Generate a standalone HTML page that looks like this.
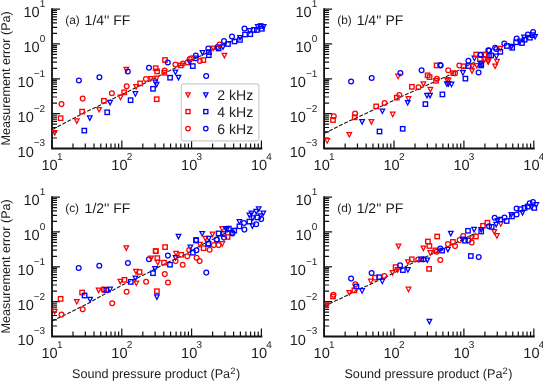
<!DOCTYPE html>
<html><head><meta charset="utf-8"><style>
html,body{margin:0;padding:0;background:#fff;}
svg{display:block;will-change:transform;}
text{font-family:"Liberation Sans",sans-serif;text-rendering:geometricPrecision;}
</style></head><body>
<svg width="543" height="381" viewBox="0 0 543 381">
<polyline points="52.5,129.4 56.1,127.5 85.5,112.1 95.8,107.3 116.8,96.9 132.5,89.3 147.5,81.8 170.0,70.4 199.9,56.2 229.9,41.8 235.0,39.5" fill="none" stroke="#1a1a1a" stroke-width="1.1" stroke-dasharray="4,1.6"/>
<path d="M52.0,148.50h8M52.0,138.01h5M52.0,131.87h5M52.0,127.52h5M52.0,124.14h5M52.0,121.38h5M52.0,119.05h5M52.0,117.03h5M52.0,115.24h5M52.0,113.65h8M52.0,103.16h5M52.0,97.02h5M52.0,92.67h5M52.0,89.29h5M52.0,86.53h5M52.0,84.20h5M52.0,82.18h5M52.0,80.39h5M52.0,78.80h8M52.0,68.31h5M52.0,62.17h5M52.0,57.82h5M52.0,54.44h5M52.0,51.68h5M52.0,49.35h5M52.0,47.33h5M52.0,45.54h5M52.0,43.95h8M52.0,33.46h5M52.0,27.32h5M52.0,22.97h5M52.0,19.59h5M52.0,16.83h5M52.0,14.50h5M52.0,12.48h5M52.0,10.69h5M52.0,9.10h8M52.00,148.5v-8M73.01,148.5v-5M85.30,148.5v-5M94.02,148.5v-5M100.79,148.5v-5M106.31,148.5v-5M110.99,148.5v-5M115.04,148.5v-5M118.61,148.5v-5M121.80,148.5v-8M142.81,148.5v-5M155.10,148.5v-5M163.82,148.5v-5M170.59,148.5v-5M176.11,148.5v-5M180.79,148.5v-5M184.84,148.5v-5M188.41,148.5v-5M191.60,148.5v-8M212.61,148.5v-5M224.90,148.5v-5M233.62,148.5v-5M240.39,148.5v-5M245.91,148.5v-5M250.59,148.5v-5M254.64,148.5v-5M258.21,148.5v-5M261.40,148.5v-8" fill="none" stroke="#111" stroke-width="1.2"/>
<path d="M52.0,9.1V148.5H261.4" fill="none" stroke="#111" stroke-width="1.8" stroke-linejoin="miter" stroke-linecap="square"/>
<path d="M52.40,130.60L57.00,130.60L54.70,135.10Z" fill="none" stroke="#ff0000" stroke-width="1.25" stroke-linejoin="miter"/>
<rect x="58.40" y="116.00" width="4.40" height="4.40" fill="none" stroke="#ff0000" stroke-width="1.35"/>
<circle cx="61.50" cy="104.10" r="2.40" fill="none" stroke="#ff0000" stroke-width="1.25"/>
<circle cx="82.70" cy="98.60" r="2.40" fill="none" stroke="#ff0000" stroke-width="1.25"/>
<rect x="79.90" y="109.40" width="4.40" height="4.40" fill="none" stroke="#ff0000" stroke-width="1.35"/>
<path d="M74.50,118.80L79.10,118.80L76.80,123.30Z" fill="none" stroke="#ff0000" stroke-width="1.25" stroke-linejoin="miter"/>
<path d="M87.50,115.90L92.10,115.90L89.80,120.40Z" fill="none" stroke="#0000ff" stroke-width="1.25" stroke-linejoin="miter"/>
<rect x="82.10" y="128.40" width="4.40" height="4.40" fill="none" stroke="#0000ff" stroke-width="1.35"/>
<path d="M96.80,107.50L101.40,107.50L99.10,112.00Z" fill="none" stroke="#ff0000" stroke-width="1.25" stroke-linejoin="miter"/>
<rect x="101.70" y="98.60" width="4.40" height="4.40" fill="none" stroke="#ff0000" stroke-width="1.35"/>
<path d="M107.80,100.40L112.40,100.40L110.10,104.90Z" fill="none" stroke="#0000ff" stroke-width="1.25" stroke-linejoin="miter"/>
<rect x="105.00" y="110.10" width="4.40" height="4.40" fill="none" stroke="#0000ff" stroke-width="1.35"/>
<circle cx="111.90" cy="93.30" r="2.40" fill="none" stroke="#ff0000" stroke-width="1.25"/>
<path d="M118.20,95.20L122.80,95.20L120.50,99.70Z" fill="none" stroke="#ff0000" stroke-width="1.25" stroke-linejoin="miter"/>
<rect x="122.00" y="90.10" width="4.40" height="4.40" fill="none" stroke="#ff0000" stroke-width="1.35"/>
<rect x="128.40" y="98.00" width="4.40" height="4.40" fill="none" stroke="#0000ff" stroke-width="1.35"/>
<circle cx="78.90" cy="80.50" r="2.40" fill="none" stroke="#0000ff" stroke-width="1.25"/>
<circle cx="99.40" cy="77.30" r="2.40" fill="none" stroke="#0000ff" stroke-width="1.25"/>
<path d="M124.00,67.30L128.60,67.30L126.30,71.80Z" fill="none" stroke="#ff0000" stroke-width="1.25" stroke-linejoin="miter"/>
<circle cx="127.80" cy="71.40" r="2.40" fill="none" stroke="#0000ff" stroke-width="1.25"/>
<circle cx="126.70" cy="86.30" r="2.40" fill="none" stroke="#ff0000" stroke-width="1.25"/>
<rect x="137.90" y="81.20" width="4.40" height="4.40" fill="none" stroke="#ff0000" stroke-width="1.35"/>
<path d="M133.80,84.60L138.40,84.60L136.10,89.10Z" fill="none" stroke="#ff0000" stroke-width="1.25" stroke-linejoin="miter"/>
<path d="M133.10,91.70L137.70,91.70L135.40,96.20Z" fill="none" stroke="#0000ff" stroke-width="1.25" stroke-linejoin="miter"/>
<rect x="154.50" y="97.00" width="4.40" height="4.40" fill="none" stroke="#ff0000" stroke-width="1.35"/>
<circle cx="149.00" cy="67.80" r="2.40" fill="none" stroke="#0000ff" stroke-width="1.25"/>
<rect x="153.50" y="66.00" width="4.40" height="4.40" fill="none" stroke="#ff0000" stroke-width="1.35"/>
<rect x="154.90" y="69.20" width="4.40" height="4.40" fill="none" stroke="#ff0000" stroke-width="1.35"/>
<circle cx="145.90" cy="78.90" r="2.40" fill="none" stroke="#ff0000" stroke-width="1.25"/>
<path d="M148.50,76.60L153.10,76.60L150.80,81.10Z" fill="none" stroke="#ff0000" stroke-width="1.25" stroke-linejoin="miter"/>
<path d="M154.30,76.20L158.90,76.20L156.60,80.70Z" fill="none" stroke="#ff0000" stroke-width="1.25" stroke-linejoin="miter"/>
<path d="M153.00,80.20L157.60,80.20L155.30,84.70Z" fill="none" stroke="#0000ff" stroke-width="1.25" stroke-linejoin="miter"/>
<path d="M154.30,82.40L158.90,82.40L156.60,86.90Z" fill="none" stroke="#0000ff" stroke-width="1.25" stroke-linejoin="miter"/>
<rect x="150.80" y="86.60" width="4.40" height="4.40" fill="none" stroke="#0000ff" stroke-width="1.35"/>
<rect x="162.80" y="57.80" width="4.40" height="4.40" fill="none" stroke="#ff0000" stroke-width="1.35"/>
<circle cx="167.80" cy="62.50" r="2.40" fill="none" stroke="#0000ff" stroke-width="1.25"/>
<circle cx="175.40" cy="64.50" r="2.40" fill="none" stroke="#ff0000" stroke-width="1.25"/>
<rect x="178.60" y="63.20" width="4.40" height="4.40" fill="none" stroke="#ff0000" stroke-width="1.35"/>
<circle cx="183.00" cy="63.40" r="2.40" fill="none" stroke="#ff0000" stroke-width="1.25"/>
<circle cx="187.50" cy="62.50" r="2.40" fill="none" stroke="#ff0000" stroke-width="1.25"/>
<circle cx="189.70" cy="58.90" r="2.40" fill="none" stroke="#ff0000" stroke-width="1.25"/>
<path d="M187.40,60.20L192.00,60.20L189.70,64.70Z" fill="none" stroke="#0000ff" stroke-width="1.25" stroke-linejoin="miter"/>
<rect x="190.60" y="63.90" width="4.40" height="4.40" fill="none" stroke="#0000ff" stroke-width="1.35"/>
<circle cx="195.80" cy="55.60" r="2.40" fill="none" stroke="#0000ff" stroke-width="1.25"/>
<rect x="193.60" y="56.10" width="4.40" height="4.40" fill="none" stroke="#0000ff" stroke-width="1.35"/>
<circle cx="164.70" cy="70.50" r="2.40" fill="none" stroke="#ff0000" stroke-width="1.25"/>
<rect x="162.10" y="70.60" width="4.40" height="4.40" fill="none" stroke="#ff0000" stroke-width="1.35"/>
<path d="M173.10,70.00L177.70,70.00L175.40,74.50Z" fill="none" stroke="#0000ff" stroke-width="1.25" stroke-linejoin="miter"/>
<path d="M176.20,75.30L180.80,75.30L178.50,79.80Z" fill="none" stroke="#0000ff" stroke-width="1.25" stroke-linejoin="miter"/>
<rect x="167.90" y="75.50" width="4.40" height="4.40" fill="none" stroke="#0000ff" stroke-width="1.35"/>
<circle cx="199.80" cy="61.00" r="2.40" fill="none" stroke="#ff0000" stroke-width="1.25"/>
<circle cx="191.30" cy="58.30" r="2.40" fill="none" stroke="#ff0000" stroke-width="1.25"/>
<rect x="201.20" y="57.90" width="4.40" height="4.40" fill="none" stroke="#ff0000" stroke-width="1.35"/>
<path d="M200.20,50.60L204.80,50.60L202.50,55.10Z" fill="none" stroke="#0000ff" stroke-width="1.25" stroke-linejoin="miter"/>
<circle cx="208.30" cy="48.50" r="2.40" fill="none" stroke="#0000ff" stroke-width="1.25"/>
<rect x="206.60" y="49.90" width="4.40" height="4.40" fill="none" stroke="#0000ff" stroke-width="1.35"/>
<rect x="206.60" y="53.00" width="4.40" height="4.40" fill="none" stroke="#0000ff" stroke-width="1.35"/>
<path d="M210.90,46.10L215.50,46.10L213.20,50.60Z" fill="none" stroke="#ff0000" stroke-width="1.25" stroke-linejoin="miter"/>
<circle cx="217.70" cy="47.10" r="2.40" fill="none" stroke="#0000ff" stroke-width="1.25"/>
<rect x="216.40" y="46.30" width="4.40" height="4.40" fill="none" stroke="#0000ff" stroke-width="1.35"/>
<circle cx="219.50" cy="44.50" r="2.40" fill="none" stroke="#ff0000" stroke-width="1.25"/>
<path d="M220.70,44.80L225.30,44.80L223.00,49.30Z" fill="none" stroke="#0000ff" stroke-width="1.25" stroke-linejoin="miter"/>
<path d="M222.10,53.30L226.70,53.30L224.40,57.80Z" fill="none" stroke="#ff0000" stroke-width="1.25" stroke-linejoin="miter"/>
<circle cx="224.00" cy="41.00" r="2.40" fill="none" stroke="#0000ff" stroke-width="1.25"/>
<rect x="225.80" y="41.80" width="4.40" height="4.40" fill="none" stroke="#0000ff" stroke-width="1.35"/>
<circle cx="232.00" cy="36.50" r="2.40" fill="none" stroke="#0000ff" stroke-width="1.25"/>
<rect x="232.30" y="39.20" width="4.40" height="4.40" fill="none" stroke="#0000ff" stroke-width="1.35"/>
<path d="M237.70,35.50L242.30,35.50L240.00,40.00Z" fill="none" stroke="#0000ff" stroke-width="1.25" stroke-linejoin="miter"/>
<rect x="237.80" y="37.70" width="4.40" height="4.40" fill="none" stroke="#0000ff" stroke-width="1.35"/>
<circle cx="244.50" cy="28.50" r="2.40" fill="none" stroke="#0000ff" stroke-width="1.25"/>
<rect x="242.80" y="32.30" width="4.40" height="4.40" fill="none" stroke="#0000ff" stroke-width="1.35"/>
<path d="M247.30,28.70L251.90,28.70L249.60,33.20Z" fill="none" stroke="#0000ff" stroke-width="1.25" stroke-linejoin="miter"/>
<rect x="248.10" y="32.00" width="4.40" height="4.40" fill="none" stroke="#0000ff" stroke-width="1.35"/>
<rect x="251.70" y="27.70" width="4.40" height="4.40" fill="none" stroke="#0000ff" stroke-width="1.35"/>
<path d="M255.50,24.70L260.10,24.70L257.80,29.20Z" fill="none" stroke="#0000ff" stroke-width="1.25" stroke-linejoin="miter"/>
<rect x="254.70" y="27.80" width="4.40" height="4.40" fill="none" stroke="#0000ff" stroke-width="1.35"/>
<rect x="258.40" y="23.80" width="4.40" height="4.40" fill="none" stroke="#0000ff" stroke-width="1.35"/>
<rect x="259.70" y="26.60" width="4.40" height="4.40" fill="none" stroke="#0000ff" stroke-width="1.35"/>
<path d="M261.30,24.60L265.90,24.60L263.60,29.10Z" fill="none" stroke="#0000ff" stroke-width="1.25" stroke-linejoin="miter"/>
<circle cx="206.20" cy="76.00" r="2.40" fill="none" stroke="#0000ff" stroke-width="1.25"/>
<text x="45.2" y="156.5" text-anchor="end" font-size="14.6" fill="#1e1e1e">10<tspan font-size="10" dy="-10.1">−3</tspan></text>
<text x="45.2" y="121.7" text-anchor="end" font-size="14.6" fill="#1e1e1e">10<tspan font-size="10" dy="-10.1">−2</tspan></text>
<text x="45.2" y="86.8" text-anchor="end" font-size="14.6" fill="#1e1e1e">10<tspan font-size="10" dy="-10.1">−1</tspan></text>
<text x="45.2" y="51.9" text-anchor="end" font-size="14.6" fill="#1e1e1e">10<tspan font-size="10" dy="-10.1">0</tspan></text>
<text x="45.2" y="17.1" text-anchor="end" font-size="14.6" fill="#1e1e1e">10<tspan font-size="10" dy="-10.1">1</tspan></text>
<text x="52.0" y="169.8" text-anchor="middle" font-size="14.6" fill="#1e1e1e">10<tspan font-size="10" dy="-9.7" dx="-0.8">1</tspan></text>
<text x="121.8" y="169.8" text-anchor="middle" font-size="14.6" fill="#1e1e1e">10<tspan font-size="10" dy="-9.7" dx="-0.8">2</tspan></text>
<text x="191.6" y="169.8" text-anchor="middle" font-size="14.6" fill="#1e1e1e">10<tspan font-size="10" dy="-9.7" dx="-0.8">3</tspan></text>
<text x="261.4" y="169.8" text-anchor="middle" font-size="14.6" fill="#1e1e1e">10<tspan font-size="10" dy="-9.7" dx="-0.8">4</tspan></text>
<text x="65.2" y="24.4" font-size="11.9" fill="#1e1e1e">(a)</text>
<text x="84.6" y="25.0" font-size="14" fill="#1a1a1a">1/4'' FF</text>
<polyline points="324.1,133.6 329.2,131.0 339.3,125.8 349.7,120.8 358.5,117.0 373.5,109.8 381.0,106.4 395.7,99.4 402.8,95.9 446.3,76.5 476.0,61.5" fill="none" stroke="#1a1a1a" stroke-width="1.1" stroke-dasharray="4,1.6"/>
<path d="M324.1,148.50h8M324.1,138.01h5M324.1,131.87h5M324.1,127.52h5M324.1,124.14h5M324.1,121.38h5M324.1,119.05h5M324.1,117.03h5M324.1,115.24h5M324.1,113.65h8M324.1,103.16h5M324.1,97.02h5M324.1,92.67h5M324.1,89.29h5M324.1,86.53h5M324.1,84.20h5M324.1,82.18h5M324.1,80.39h5M324.1,78.80h8M324.1,68.31h5M324.1,62.17h5M324.1,57.82h5M324.1,54.44h5M324.1,51.68h5M324.1,49.35h5M324.1,47.33h5M324.1,45.54h5M324.1,43.95h8M324.1,33.46h5M324.1,27.32h5M324.1,22.97h5M324.1,19.59h5M324.1,16.83h5M324.1,14.50h5M324.1,12.48h5M324.1,10.69h5M324.1,9.10h8M324.10,148.5v-8M345.14,148.5v-5M357.45,148.5v-5M366.18,148.5v-5M372.96,148.5v-5M378.49,148.5v-5M383.17,148.5v-5M387.23,148.5v-5M390.80,148.5v-5M394.00,148.5v-8M415.04,148.5v-5M427.35,148.5v-5M436.08,148.5v-5M442.86,148.5v-5M448.39,148.5v-5M453.07,148.5v-5M457.13,148.5v-5M460.70,148.5v-5M463.90,148.5v-8M484.94,148.5v-5M497.25,148.5v-5M505.98,148.5v-5M512.76,148.5v-5M518.29,148.5v-5M522.97,148.5v-5M527.03,148.5v-5M530.60,148.5v-5M533.80,148.5v-8" fill="none" stroke="#111" stroke-width="1.2"/>
<path d="M324.1,9.1V148.5H533.8" fill="none" stroke="#111" stroke-width="1.8" stroke-linejoin="miter" stroke-linecap="square"/>
<path d="M324.90,138.70L329.50,138.70L327.20,143.20Z" fill="none" stroke="#ff0000" stroke-width="1.25" stroke-linejoin="miter"/>
<circle cx="333.80" cy="116.30" r="2.40" fill="none" stroke="#ff0000" stroke-width="1.25"/>
<rect x="330.80" y="117.80" width="4.40" height="4.40" fill="none" stroke="#ff0000" stroke-width="1.35"/>
<path d="M347.00,132.50L351.60,132.50L349.30,137.00Z" fill="none" stroke="#ff0000" stroke-width="1.25" stroke-linejoin="miter"/>
<circle cx="355.10" cy="113.40" r="2.40" fill="none" stroke="#ff0000" stroke-width="1.25"/>
<rect x="352.50" y="115.10" width="4.40" height="4.40" fill="none" stroke="#ff0000" stroke-width="1.35"/>
<path d="M359.80,119.60L364.40,119.60L362.10,124.10Z" fill="none" stroke="#0000ff" stroke-width="1.25" stroke-linejoin="miter"/>
<path d="M369.10,119.60L373.70,119.60L371.40,124.10Z" fill="none" stroke="#ff0000" stroke-width="1.25" stroke-linejoin="miter"/>
<rect x="377.30" y="129.30" width="4.40" height="4.40" fill="none" stroke="#0000ff" stroke-width="1.35"/>
<rect x="374.00" y="104.20" width="4.40" height="4.40" fill="none" stroke="#ff0000" stroke-width="1.35"/>
<circle cx="384.60" cy="103.00" r="2.40" fill="none" stroke="#ff0000" stroke-width="1.25"/>
<path d="M380.10,109.00L384.70,109.00L382.40,113.50Z" fill="none" stroke="#0000ff" stroke-width="1.25" stroke-linejoin="miter"/>
<path d="M390.40,112.20L395.00,112.20L392.70,116.70Z" fill="none" stroke="#ff0000" stroke-width="1.25" stroke-linejoin="miter"/>
<rect x="394.60" y="95.40" width="4.40" height="4.40" fill="none" stroke="#ff0000" stroke-width="1.35"/>
<circle cx="399.30" cy="94.90" r="2.40" fill="none" stroke="#ff0000" stroke-width="1.25"/>
<rect x="400.50" y="126.60" width="4.40" height="4.40" fill="none" stroke="#0000ff" stroke-width="1.35"/>
<circle cx="351.10" cy="81.50" r="2.40" fill="none" stroke="#0000ff" stroke-width="1.25"/>
<circle cx="371.70" cy="78.00" r="2.40" fill="none" stroke="#0000ff" stroke-width="1.25"/>
<path d="M395.80,74.20L400.40,74.20L398.10,78.70Z" fill="none" stroke="#ff0000" stroke-width="1.25" stroke-linejoin="miter"/>
<circle cx="400.40" cy="73.10" r="2.40" fill="none" stroke="#0000ff" stroke-width="1.25"/>
<circle cx="421.60" cy="70.30" r="2.40" fill="none" stroke="#0000ff" stroke-width="1.25"/>
<rect x="434.40" y="63.20" width="4.40" height="4.40" fill="none" stroke="#ff0000" stroke-width="1.35"/>
<circle cx="440.30" cy="65.10" r="2.40" fill="none" stroke="#0000ff" stroke-width="1.25"/>
<rect x="425.40" y="73.10" width="4.40" height="4.40" fill="none" stroke="#ff0000" stroke-width="1.35"/>
<rect x="427.40" y="74.90" width="4.40" height="4.40" fill="none" stroke="#ff0000" stroke-width="1.35"/>
<circle cx="436.90" cy="78.70" r="2.40" fill="none" stroke="#ff0000" stroke-width="1.25"/>
<rect x="433.80" y="78.60" width="4.40" height="4.40" fill="none" stroke="#ff0000" stroke-width="1.35"/>
<path d="M421.10,81.90L425.70,81.90L423.40,86.40Z" fill="none" stroke="#ff0000" stroke-width="1.25" stroke-linejoin="miter"/>
<rect x="409.70" y="84.60" width="4.40" height="4.40" fill="none" stroke="#ff0000" stroke-width="1.35"/>
<circle cx="418.50" cy="87.20" r="2.40" fill="none" stroke="#ff0000" stroke-width="1.25"/>
<path d="M428.10,87.30L432.70,87.30L430.40,91.80Z" fill="none" stroke="#ff0000" stroke-width="1.25" stroke-linejoin="miter"/>
<path d="M424.70,93.40L429.30,93.40L427.00,97.90Z" fill="none" stroke="#0000ff" stroke-width="1.25" stroke-linejoin="miter"/>
<path d="M427.70,93.40L432.30,93.40L430.00,97.90Z" fill="none" stroke="#0000ff" stroke-width="1.25" stroke-linejoin="miter"/>
<rect x="440.20" y="92.20" width="4.40" height="4.40" fill="none" stroke="#0000ff" stroke-width="1.35"/>
<path d="M406.20,96.70L410.80,96.70L408.50,101.20Z" fill="none" stroke="#ff0000" stroke-width="1.25" stroke-linejoin="miter"/>
<path d="M405.40,100.50L410.00,100.50L407.70,105.00Z" fill="none" stroke="#0000ff" stroke-width="1.25" stroke-linejoin="miter"/>
<rect x="423.20" y="101.90" width="4.40" height="4.40" fill="none" stroke="#0000ff" stroke-width="1.35"/>
<path d="M444.60,77.70L449.20,77.70L446.90,82.20Z" fill="none" stroke="#ff0000" stroke-width="1.25" stroke-linejoin="miter"/>
<path d="M444.60,81.90L449.20,81.90L446.90,86.40Z" fill="none" stroke="#0000ff" stroke-width="1.25" stroke-linejoin="miter"/>
<circle cx="440.60" cy="65.40" r="2.40" fill="none" stroke="#0000ff" stroke-width="1.25"/>
<circle cx="448.20" cy="70.20" r="2.40" fill="none" stroke="#ff0000" stroke-width="1.25"/>
<circle cx="455.10" cy="73.20" r="2.40" fill="none" stroke="#ff0000" stroke-width="1.25"/>
<rect x="451.10" y="71.00" width="4.40" height="4.40" fill="none" stroke="#ff0000" stroke-width="1.35"/>
<path d="M446.20,78.00L450.80,78.00L448.50,82.50Z" fill="none" stroke="#ff0000" stroke-width="1.25" stroke-linejoin="miter"/>
<path d="M446.20,81.60L450.80,81.60L448.50,86.10Z" fill="none" stroke="#0000ff" stroke-width="1.25" stroke-linejoin="miter"/>
<path d="M449.20,82.20L453.80,82.20L451.50,86.70Z" fill="none" stroke="#0000ff" stroke-width="1.25" stroke-linejoin="miter"/>
<circle cx="459.30" cy="65.40" r="2.40" fill="none" stroke="#ff0000" stroke-width="1.25"/>
<rect x="461.40" y="64.10" width="4.40" height="4.40" fill="none" stroke="#ff0000" stroke-width="1.35"/>
<circle cx="468.40" cy="60.80" r="2.40" fill="none" stroke="#0000ff" stroke-width="1.25"/>
<rect x="466.20" y="63.80" width="4.40" height="4.40" fill="none" stroke="#0000ff" stroke-width="1.35"/>
<path d="M470.10,64.10L474.70,64.10L472.40,68.60Z" fill="none" stroke="#ff0000" stroke-width="1.25" stroke-linejoin="miter"/>
<path d="M469.70,68.90L474.30,68.90L472.00,73.40Z" fill="none" stroke="#ff0000" stroke-width="1.25" stroke-linejoin="miter"/>
<path d="M460.60,70.70L465.20,70.70L462.90,75.20Z" fill="none" stroke="#0000ff" stroke-width="1.25" stroke-linejoin="miter"/>
<rect x="463.20" y="76.40" width="4.40" height="4.40" fill="none" stroke="#0000ff" stroke-width="1.35"/>
<path d="M472.10,56.20L476.70,56.20L474.40,60.70Z" fill="none" stroke="#0000ff" stroke-width="1.25" stroke-linejoin="miter"/>
<path d="M474.50,63.50L479.10,63.50L476.80,68.00Z" fill="none" stroke="#ff0000" stroke-width="1.25" stroke-linejoin="miter"/>
<circle cx="478.60" cy="72.40" r="2.40" fill="none" stroke="#0000ff" stroke-width="1.25"/>
<path d="M478.80,61.10L483.40,61.10L481.10,65.60Z" fill="none" stroke="#0000ff" stroke-width="1.25" stroke-linejoin="miter"/>
<rect x="478.90" y="63.20" width="4.40" height="4.40" fill="none" stroke="#0000ff" stroke-width="1.35"/>
<rect x="474.00" y="52.30" width="4.40" height="4.40" fill="none" stroke="#ff0000" stroke-width="1.35"/>
<rect x="477.70" y="57.10" width="4.40" height="4.40" fill="none" stroke="#ff0000" stroke-width="1.35"/>
<circle cx="480.50" cy="54.70" r="2.40" fill="none" stroke="#0000ff" stroke-width="1.25"/>
<path d="M482.40,57.40L487.00,57.40L484.70,61.90Z" fill="none" stroke="#ff0000" stroke-width="1.25" stroke-linejoin="miter"/>
<rect x="483.10" y="52.30" width="4.40" height="4.40" fill="none" stroke="#ff0000" stroke-width="1.35"/>
<path d="M486.00,59.80L490.60,59.80L488.30,64.30Z" fill="none" stroke="#ff0000" stroke-width="1.25" stroke-linejoin="miter"/>
<circle cx="488.30" cy="50.30" r="2.40" fill="none" stroke="#0000ff" stroke-width="1.25"/>
<rect x="486.70" y="53.50" width="4.40" height="4.40" fill="none" stroke="#0000ff" stroke-width="1.35"/>
<circle cx="504.30" cy="43.60" r="2.40" fill="none" stroke="#0000ff" stroke-width="1.25"/>
<rect x="504.70" y="43.80" width="4.40" height="4.40" fill="none" stroke="#0000ff" stroke-width="1.35"/>
<path d="M509.20,44.30L513.80,44.30L511.50,48.80Z" fill="none" stroke="#0000ff" stroke-width="1.25" stroke-linejoin="miter"/>
<rect x="510.00" y="45.60" width="4.40" height="4.40" fill="none" stroke="#0000ff" stroke-width="1.35"/>
<circle cx="516.70" cy="38.40" r="2.40" fill="none" stroke="#0000ff" stroke-width="1.25"/>
<rect x="513.90" y="40.10" width="4.40" height="4.40" fill="none" stroke="#0000ff" stroke-width="1.35"/>
<path d="M517.70,39.10L522.30,39.10L520.00,43.60Z" fill="none" stroke="#0000ff" stroke-width="1.25" stroke-linejoin="miter"/>
<rect x="519.80" y="40.80" width="4.40" height="4.40" fill="none" stroke="#0000ff" stroke-width="1.35"/>
<path d="M521.70,35.20L526.30,35.20L524.00,39.70Z" fill="none" stroke="#0000ff" stroke-width="1.25" stroke-linejoin="miter"/>
<rect x="522.40" y="37.50" width="4.40" height="4.40" fill="none" stroke="#0000ff" stroke-width="1.35"/>
<circle cx="527.90" cy="34.40" r="2.40" fill="none" stroke="#0000ff" stroke-width="1.25"/>
<rect x="527.70" y="35.50" width="4.40" height="4.40" fill="none" stroke="#0000ff" stroke-width="1.35"/>
<rect x="530.30" y="32.90" width="4.40" height="4.40" fill="none" stroke="#0000ff" stroke-width="1.35"/>
<circle cx="533.10" cy="32.10" r="2.40" fill="none" stroke="#0000ff" stroke-width="1.25"/>
<path d="M532.80,34.50L537.40,34.50L535.10,39.00Z" fill="none" stroke="#0000ff" stroke-width="1.25" stroke-linejoin="miter"/>
<circle cx="489.20" cy="50.40" r="2.40" fill="none" stroke="#0000ff" stroke-width="1.25"/>
<circle cx="495.10" cy="47.80" r="2.40" fill="none" stroke="#0000ff" stroke-width="1.25"/>
<circle cx="496.40" cy="48.90" r="2.40" fill="none" stroke="#0000ff" stroke-width="1.25"/>
<path d="M498.00,46.30L502.60,46.30L500.30,50.80Z" fill="none" stroke="#ff0000" stroke-width="1.25" stroke-linejoin="miter"/>
<rect x="498.10" y="49.60" width="4.40" height="4.40" fill="none" stroke="#0000ff" stroke-width="1.35"/>
<rect x="482.40" y="52.60" width="4.40" height="4.40" fill="none" stroke="#ff0000" stroke-width="1.35"/>
<rect x="489.00" y="53.20" width="4.40" height="4.40" fill="none" stroke="#0000ff" stroke-width="1.35"/>
<path d="M494.10,54.20L498.70,54.20L496.40,58.70Z" fill="none" stroke="#0000ff" stroke-width="1.25" stroke-linejoin="miter"/>
<path d="M485.60,58.80L490.20,58.80L487.90,63.30Z" fill="none" stroke="#ff0000" stroke-width="1.25" stroke-linejoin="miter"/>
<path d="M494.80,59.40L499.40,59.40L497.10,63.90Z" fill="none" stroke="#ff0000" stroke-width="1.25" stroke-linejoin="miter"/>
<path d="M492.80,64.00L497.40,64.00L495.10,68.50Z" fill="none" stroke="#ff0000" stroke-width="1.25" stroke-linejoin="miter"/>
<rect x="479.10" y="61.80" width="4.40" height="4.40" fill="none" stroke="#0000ff" stroke-width="1.35"/>
<circle cx="480.70" cy="54.80" r="2.40" fill="none" stroke="#0000ff" stroke-width="1.25"/>
<text x="317.3" y="156.5" text-anchor="end" font-size="14.6" fill="#1e1e1e">10<tspan font-size="10" dy="-10.1">−3</tspan></text>
<text x="317.3" y="121.7" text-anchor="end" font-size="14.6" fill="#1e1e1e">10<tspan font-size="10" dy="-10.1">−2</tspan></text>
<text x="317.3" y="86.8" text-anchor="end" font-size="14.6" fill="#1e1e1e">10<tspan font-size="10" dy="-10.1">−1</tspan></text>
<text x="317.3" y="51.9" text-anchor="end" font-size="14.6" fill="#1e1e1e">10<tspan font-size="10" dy="-10.1">0</tspan></text>
<text x="317.3" y="17.1" text-anchor="end" font-size="14.6" fill="#1e1e1e">10<tspan font-size="10" dy="-10.1">1</tspan></text>
<text x="324.1" y="169.8" text-anchor="middle" font-size="14.6" fill="#1e1e1e">10<tspan font-size="10" dy="-9.7" dx="-0.8">1</tspan></text>
<text x="394.0" y="169.8" text-anchor="middle" font-size="14.6" fill="#1e1e1e">10<tspan font-size="10" dy="-9.7" dx="-0.8">2</tspan></text>
<text x="463.9" y="169.8" text-anchor="middle" font-size="14.6" fill="#1e1e1e">10<tspan font-size="10" dy="-9.7" dx="-0.8">3</tspan></text>
<text x="533.8" y="169.8" text-anchor="middle" font-size="14.6" fill="#1e1e1e">10<tspan font-size="10" dy="-9.7" dx="-0.8">4</tspan></text>
<text x="337.3" y="24.4" font-size="11.9" fill="#1e1e1e">(b)</text>
<text x="356.7" y="25.0" font-size="14" fill="#1a1a1a">1/4'' PF</text>
<polyline points="52.1,320.9 53.1,320.4 65.7,314.5 77.6,308.6 89.4,302.7 100.2,296.5 112.8,290.2 125.4,283.5 137.4,278.0 150.0,271.7 161.0,265.8 171.8,260.5 186.8,253.8 201.8,244.8 210.5,240.5 235.7,227.8 238.0,226.6" fill="none" stroke="#1a1a1a" stroke-width="1.1" stroke-dasharray="4,1.6"/>
<path d="M52.0,336.50h8M52.0,326.01h5M52.0,319.87h5M52.0,315.52h5M52.0,312.14h5M52.0,309.38h5M52.0,307.05h5M52.0,305.03h5M52.0,303.24h5M52.0,301.65h8M52.0,291.16h5M52.0,285.02h5M52.0,280.67h5M52.0,277.29h5M52.0,274.53h5M52.0,272.20h5M52.0,270.18h5M52.0,268.39h5M52.0,266.80h8M52.0,256.31h5M52.0,250.17h5M52.0,245.82h5M52.0,242.44h5M52.0,239.68h5M52.0,237.35h5M52.0,235.33h5M52.0,233.54h5M52.0,231.95h8M52.0,221.46h5M52.0,215.32h5M52.0,210.97h5M52.0,207.59h5M52.0,204.83h5M52.0,202.50h5M52.0,200.48h5M52.0,198.69h5M52.0,197.10h8M52.00,336.5v-8M73.01,336.5v-5M85.30,336.5v-5M94.02,336.5v-5M100.79,336.5v-5M106.31,336.5v-5M110.99,336.5v-5M115.04,336.5v-5M118.61,336.5v-5M121.80,336.5v-8M142.81,336.5v-5M155.10,336.5v-5M163.82,336.5v-5M170.59,336.5v-5M176.11,336.5v-5M180.79,336.5v-5M184.84,336.5v-5M188.41,336.5v-5M191.60,336.5v-8M212.61,336.5v-5M224.90,336.5v-5M233.62,336.5v-5M240.39,336.5v-5M245.91,336.5v-5M250.59,336.5v-5M254.64,336.5v-5M258.21,336.5v-5M261.40,336.5v-8" fill="none" stroke="#111" stroke-width="1.2"/>
<path d="M52.0,197.1V336.5H261.4" fill="none" stroke="#111" stroke-width="1.8" stroke-linejoin="miter" stroke-linecap="square"/>
<path d="M52.40,309.30L57.00,309.30L54.70,313.80Z" fill="none" stroke="#ff0000" stroke-width="1.25" stroke-linejoin="miter"/>
<rect x="58.40" y="296.70" width="4.40" height="4.40" fill="none" stroke="#ff0000" stroke-width="1.35"/>
<circle cx="61.50" cy="314.60" r="2.40" fill="none" stroke="#ff0000" stroke-width="1.25"/>
<path d="M74.50,299.50L79.10,299.50L76.80,304.00Z" fill="none" stroke="#ff0000" stroke-width="1.25" stroke-linejoin="miter"/>
<rect x="79.90" y="290.30" width="4.40" height="4.40" fill="none" stroke="#ff0000" stroke-width="1.35"/>
<rect x="82.40" y="293.30" width="4.40" height="4.40" fill="none" stroke="#0000ff" stroke-width="1.35"/>
<path d="M87.80,297.30L92.40,297.30L90.10,301.80Z" fill="none" stroke="#0000ff" stroke-width="1.25" stroke-linejoin="miter"/>
<circle cx="82.70" cy="309.20" r="2.40" fill="none" stroke="#ff0000" stroke-width="1.25"/>
<path d="M96.30,288.10L100.90,288.10L98.60,292.60Z" fill="none" stroke="#ff0000" stroke-width="1.25" stroke-linejoin="miter"/>
<circle cx="103.30" cy="289.60" r="2.40" fill="none" stroke="#ff0000" stroke-width="1.25"/>
<rect x="102.00" y="287.40" width="4.40" height="4.40" fill="none" stroke="#ff0000" stroke-width="1.35"/>
<rect x="104.10" y="287.80" width="4.40" height="4.40" fill="none" stroke="#0000ff" stroke-width="1.35"/>
<path d="M107.80,287.20L112.40,287.20L110.10,291.70Z" fill="none" stroke="#0000ff" stroke-width="1.25" stroke-linejoin="miter"/>
<circle cx="112.20" cy="303.30" r="2.40" fill="none" stroke="#ff0000" stroke-width="1.25"/>
<circle cx="126.60" cy="291.80" r="2.40" fill="none" stroke="#ff0000" stroke-width="1.25"/>
<path d="M118.00,279.40L122.60,279.40L120.30,283.90Z" fill="none" stroke="#ff0000" stroke-width="1.25" stroke-linejoin="miter"/>
<rect x="122.30" y="277.60" width="4.40" height="4.40" fill="none" stroke="#ff0000" stroke-width="1.35"/>
<rect x="128.60" y="279.70" width="4.40" height="4.40" fill="none" stroke="#0000ff" stroke-width="1.35"/>
<circle cx="78.70" cy="268.00" r="2.40" fill="none" stroke="#0000ff" stroke-width="1.25"/>
<circle cx="99.30" cy="265.70" r="2.40" fill="none" stroke="#0000ff" stroke-width="1.25"/>
<path d="M124.00,245.80L128.60,245.80L126.30,250.30Z" fill="none" stroke="#ff0000" stroke-width="1.25" stroke-linejoin="miter"/>
<circle cx="127.90" cy="262.90" r="2.40" fill="none" stroke="#0000ff" stroke-width="1.25"/>
<rect x="153.50" y="248.90" width="4.40" height="4.40" fill="none" stroke="#ff0000" stroke-width="1.35"/>
<circle cx="149.00" cy="259.30" r="2.40" fill="none" stroke="#0000ff" stroke-width="1.25"/>
<path d="M148.80,256.00L153.40,256.00L151.10,260.50Z" fill="none" stroke="#ff0000" stroke-width="1.25" stroke-linejoin="miter"/>
<rect x="155.10" y="255.90" width="4.40" height="4.40" fill="none" stroke="#ff0000" stroke-width="1.35"/>
<path d="M155.50,260.30L160.10,260.30L157.80,264.80Z" fill="none" stroke="#ff0000" stroke-width="1.25" stroke-linejoin="miter"/>
<path d="M152.70,266.50L157.30,266.50L155.00,271.00Z" fill="none" stroke="#0000ff" stroke-width="1.25" stroke-linejoin="miter"/>
<rect x="150.80" y="271.00" width="4.40" height="4.40" fill="none" stroke="#0000ff" stroke-width="1.35"/>
<path d="M133.70,269.30L138.30,269.30L136.00,273.80Z" fill="none" stroke="#ff0000" stroke-width="1.25" stroke-linejoin="miter"/>
<rect x="137.40" y="269.80" width="4.40" height="4.40" fill="none" stroke="#ff0000" stroke-width="1.35"/>
<path d="M133.10,276.10L137.70,276.10L135.40,280.60Z" fill="none" stroke="#0000ff" stroke-width="1.25" stroke-linejoin="miter"/>
<path d="M134.00,281.00L138.60,281.00L136.30,285.50Z" fill="none" stroke="#ff0000" stroke-width="1.25" stroke-linejoin="miter"/>
<circle cx="146.10" cy="281.70" r="2.40" fill="none" stroke="#ff0000" stroke-width="1.25"/>
<path d="M176.20,234.40L180.80,234.40L178.50,238.90Z" fill="none" stroke="#0000ff" stroke-width="1.25" stroke-linejoin="miter"/>
<rect x="162.90" y="244.90" width="4.40" height="4.40" fill="none" stroke="#ff0000" stroke-width="1.35"/>
<rect x="153.60" y="249.00" width="4.40" height="4.40" fill="none" stroke="#ff0000" stroke-width="1.35"/>
<circle cx="167.90" cy="255.60" r="2.40" fill="none" stroke="#0000ff" stroke-width="1.25"/>
<path d="M173.70,251.30L178.30,251.30L176.00,255.80Z" fill="none" stroke="#ff0000" stroke-width="1.25" stroke-linejoin="miter"/>
<rect x="179.00" y="252.60" width="4.40" height="4.40" fill="none" stroke="#ff0000" stroke-width="1.35"/>
<path d="M173.30,255.60L177.90,255.60L175.60,260.10Z" fill="none" stroke="#0000ff" stroke-width="1.25" stroke-linejoin="miter"/>
<circle cx="175.60" cy="261.10" r="2.40" fill="none" stroke="#ff0000" stroke-width="1.25"/>
<circle cx="187.30" cy="256.20" r="2.40" fill="none" stroke="#ff0000" stroke-width="1.25"/>
<rect x="193.90" y="238.30" width="4.40" height="4.40" fill="none" stroke="#0000ff" stroke-width="1.35"/>
<path d="M188.10,245.10L192.70,245.10L190.40,249.60Z" fill="none" stroke="#0000ff" stroke-width="1.25" stroke-linejoin="miter"/>
<circle cx="189.20" cy="249.90" r="2.40" fill="none" stroke="#ff0000" stroke-width="1.25"/>
<circle cx="196.40" cy="250.30" r="2.40" fill="none" stroke="#0000ff" stroke-width="1.25"/>
<rect x="190.60" y="250.50" width="4.40" height="4.40" fill="none" stroke="#0000ff" stroke-width="1.35"/>
<circle cx="196.60" cy="257.70" r="2.40" fill="none" stroke="#ff0000" stroke-width="1.25"/>
<rect x="161.80" y="260.50" width="4.40" height="4.40" fill="none" stroke="#ff0000" stroke-width="1.35"/>
<rect x="167.80" y="262.50" width="4.40" height="4.40" fill="none" stroke="#0000ff" stroke-width="1.35"/>
<circle cx="182.70" cy="264.80" r="2.40" fill="none" stroke="#ff0000" stroke-width="1.25"/>
<circle cx="164.80" cy="274.10" r="2.40" fill="none" stroke="#ff0000" stroke-width="1.25"/>
<circle cx="168.00" cy="282.50" r="2.40" fill="none" stroke="#ff0000" stroke-width="1.25"/>
<rect x="154.70" y="289.00" width="4.40" height="4.40" fill="none" stroke="#ff0000" stroke-width="1.35"/>
<path d="M154.60,294.80L159.20,294.80L156.90,299.30Z" fill="none" stroke="#0000ff" stroke-width="1.25" stroke-linejoin="miter"/>
<circle cx="199.60" cy="261.10" r="2.40" fill="none" stroke="#ff0000" stroke-width="1.25"/>
<circle cx="206.30" cy="272.60" r="2.40" fill="none" stroke="#0000ff" stroke-width="1.25"/>
<path d="M197.60,242.30L202.20,242.30L199.90,246.80Z" fill="none" stroke="#ff0000" stroke-width="1.25" stroke-linejoin="miter"/>
<rect x="201.40" y="246.00" width="4.40" height="4.40" fill="none" stroke="#ff0000" stroke-width="1.35"/>
<circle cx="209.60" cy="249.70" r="2.40" fill="none" stroke="#ff0000" stroke-width="1.25"/>
<rect x="206.20" y="241.70" width="4.40" height="4.40" fill="none" stroke="#0000ff" stroke-width="1.35"/>
<circle cx="213.80" cy="245.10" r="2.40" fill="none" stroke="#ff0000" stroke-width="1.25"/>
<circle cx="218.60" cy="245.10" r="2.40" fill="none" stroke="#ff0000" stroke-width="1.25"/>
<path d="M220.00,241.70L224.60,241.70L222.30,246.20Z" fill="none" stroke="#ff0000" stroke-width="1.25" stroke-linejoin="miter"/>
<circle cx="216.80" cy="239.80" r="2.40" fill="none" stroke="#0000ff" stroke-width="1.25"/>
<path d="M199.90,231.50L204.50,231.50L202.20,236.00Z" fill="none" stroke="#0000ff" stroke-width="1.25" stroke-linejoin="miter"/>
<rect x="194.00" y="237.80" width="4.40" height="4.40" fill="none" stroke="#0000ff" stroke-width="1.35"/>
<path d="M203.00,236.30L207.60,236.30L205.30,240.80Z" fill="none" stroke="#ff0000" stroke-width="1.25" stroke-linejoin="miter"/>
<path d="M206.60,236.30L211.20,236.30L208.90,240.80Z" fill="none" stroke="#0000ff" stroke-width="1.25" stroke-linejoin="miter"/>
<rect x="206.10" y="241.40" width="4.40" height="4.40" fill="none" stroke="#0000ff" stroke-width="1.35"/>
<path d="M210.20,232.10L214.80,232.10L212.50,236.60Z" fill="none" stroke="#ff0000" stroke-width="1.25" stroke-linejoin="miter"/>
<circle cx="216.70" cy="239.40" r="2.40" fill="none" stroke="#0000ff" stroke-width="1.25"/>
<rect x="216.40" y="231.20" width="4.40" height="4.40" fill="none" stroke="#0000ff" stroke-width="1.35"/>
<path d="M219.90,226.70L224.50,226.70L222.20,231.20Z" fill="none" stroke="#ff0000" stroke-width="1.25" stroke-linejoin="miter"/>
<path d="M223.50,226.70L228.10,226.70L225.80,231.20Z" fill="none" stroke="#0000ff" stroke-width="1.25" stroke-linejoin="miter"/>
<rect x="221.20" y="231.80" width="4.40" height="4.40" fill="none" stroke="#0000ff" stroke-width="1.35"/>
<circle cx="224.00" cy="237.60" r="2.40" fill="none" stroke="#0000ff" stroke-width="1.25"/>
<rect x="225.40" y="234.80" width="4.40" height="4.40" fill="none" stroke="#ff0000" stroke-width="1.35"/>
<rect x="226.60" y="226.40" width="4.40" height="4.40" fill="none" stroke="#0000ff" stroke-width="1.35"/>
<path d="M224.70,227.20L229.30,227.20L227.00,231.70Z" fill="none" stroke="#0000ff" stroke-width="1.25" stroke-linejoin="miter"/>
<circle cx="232.30" cy="233.50" r="2.40" fill="none" stroke="#0000ff" stroke-width="1.25"/>
<rect x="232.00" y="228.40" width="4.40" height="4.40" fill="none" stroke="#0000ff" stroke-width="1.35"/>
<circle cx="232.40" cy="232.80" r="2.40" fill="none" stroke="#0000ff" stroke-width="1.25"/>
<path d="M237.10,219.50L241.70,219.50L239.40,224.00Z" fill="none" stroke="#0000ff" stroke-width="1.25" stroke-linejoin="miter"/>
<rect x="237.20" y="224.10" width="4.40" height="4.40" fill="none" stroke="#0000ff" stroke-width="1.35"/>
<circle cx="244.40" cy="229.60" r="2.40" fill="none" stroke="#0000ff" stroke-width="1.25"/>
<circle cx="244.00" cy="222.90" r="2.40" fill="none" stroke="#0000ff" stroke-width="1.25"/>
<rect x="247.20" y="219.40" width="4.40" height="4.40" fill="none" stroke="#0000ff" stroke-width="1.35"/>
<path d="M250.10,223.90L254.70,223.90L252.40,228.40Z" fill="none" stroke="#0000ff" stroke-width="1.25" stroke-linejoin="miter"/>
<circle cx="256.20" cy="224.20" r="2.40" fill="none" stroke="#0000ff" stroke-width="1.25"/>
<path d="M247.10,213.10L251.70,213.10L249.40,217.60Z" fill="none" stroke="#0000ff" stroke-width="1.25" stroke-linejoin="miter"/>
<path d="M249.20,211.10L253.80,211.10L251.50,215.60Z" fill="none" stroke="#0000ff" stroke-width="1.25" stroke-linejoin="miter"/>
<path d="M250.50,215.90L255.10,215.90L252.80,220.40Z" fill="none" stroke="#0000ff" stroke-width="1.25" stroke-linejoin="miter"/>
<path d="M253.90,209.30L258.50,209.30L256.20,213.80Z" fill="none" stroke="#0000ff" stroke-width="1.25" stroke-linejoin="miter"/>
<path d="M256.40,206.90L261.00,206.90L258.70,211.40Z" fill="none" stroke="#0000ff" stroke-width="1.25" stroke-linejoin="miter"/>
<rect x="255.20" y="215.20" width="4.40" height="4.40" fill="none" stroke="#0000ff" stroke-width="1.35"/>
<path d="M258.10,213.80L262.70,213.80L260.40,218.30Z" fill="none" stroke="#0000ff" stroke-width="1.25" stroke-linejoin="miter"/>
<path d="M261.00,211.00L265.60,211.00L263.30,215.50Z" fill="none" stroke="#0000ff" stroke-width="1.25" stroke-linejoin="miter"/>
<circle cx="261.20" cy="219.10" r="2.40" fill="none" stroke="#0000ff" stroke-width="1.25"/>
<text x="45.2" y="344.5" text-anchor="end" font-size="14.6" fill="#1e1e1e">10<tspan font-size="10" dy="-10.1">−3</tspan></text>
<text x="45.2" y="309.6" text-anchor="end" font-size="14.6" fill="#1e1e1e">10<tspan font-size="10" dy="-10.1">−2</tspan></text>
<text x="45.2" y="274.8" text-anchor="end" font-size="14.6" fill="#1e1e1e">10<tspan font-size="10" dy="-10.1">−1</tspan></text>
<text x="45.2" y="239.9" text-anchor="end" font-size="14.6" fill="#1e1e1e">10<tspan font-size="10" dy="-10.1">0</tspan></text>
<text x="45.2" y="205.1" text-anchor="end" font-size="14.6" fill="#1e1e1e">10<tspan font-size="10" dy="-10.1">1</tspan></text>
<text x="52.0" y="357.8" text-anchor="middle" font-size="14.6" fill="#1e1e1e">10<tspan font-size="10" dy="-9.7" dx="-0.8">1</tspan></text>
<text x="121.8" y="357.8" text-anchor="middle" font-size="14.6" fill="#1e1e1e">10<tspan font-size="10" dy="-9.7" dx="-0.8">2</tspan></text>
<text x="191.6" y="357.8" text-anchor="middle" font-size="14.6" fill="#1e1e1e">10<tspan font-size="10" dy="-9.7" dx="-0.8">3</tspan></text>
<text x="261.4" y="357.8" text-anchor="middle" font-size="14.6" fill="#1e1e1e">10<tspan font-size="10" dy="-9.7" dx="-0.8">4</tspan></text>
<text x="65.2" y="212.4" font-size="11.9" fill="#1e1e1e">(c)</text>
<text x="84.6" y="213.0" font-size="14" fill="#1a1a1a">1/2'' FF</text>
<polyline points="324.1,306.5 329.9,303.6 348.8,294.6 356.6,290.2 367.9,285.5 389.1,275.3 398.6,270.6 408.2,265.1 431.1,254.5 456.5,242.5 472.2,234.7 476.0,232.9" fill="none" stroke="#1a1a1a" stroke-width="1.1" stroke-dasharray="4,1.6"/>
<path d="M324.1,336.50h8M324.1,326.01h5M324.1,319.87h5M324.1,315.52h5M324.1,312.14h5M324.1,309.38h5M324.1,307.05h5M324.1,305.03h5M324.1,303.24h5M324.1,301.65h8M324.1,291.16h5M324.1,285.02h5M324.1,280.67h5M324.1,277.29h5M324.1,274.53h5M324.1,272.20h5M324.1,270.18h5M324.1,268.39h5M324.1,266.80h8M324.1,256.31h5M324.1,250.17h5M324.1,245.82h5M324.1,242.44h5M324.1,239.68h5M324.1,237.35h5M324.1,235.33h5M324.1,233.54h5M324.1,231.95h8M324.1,221.46h5M324.1,215.32h5M324.1,210.97h5M324.1,207.59h5M324.1,204.83h5M324.1,202.50h5M324.1,200.48h5M324.1,198.69h5M324.1,197.10h8M324.10,336.5v-8M345.14,336.5v-5M357.45,336.5v-5M366.18,336.5v-5M372.96,336.5v-5M378.49,336.5v-5M383.17,336.5v-5M387.23,336.5v-5M390.80,336.5v-5M394.00,336.5v-8M415.04,336.5v-5M427.35,336.5v-5M436.08,336.5v-5M442.86,336.5v-5M448.39,336.5v-5M453.07,336.5v-5M457.13,336.5v-5M460.70,336.5v-5M463.90,336.5v-8M484.94,336.5v-5M497.25,336.5v-5M505.98,336.5v-5M512.76,336.5v-5M518.29,336.5v-5M522.97,336.5v-5M527.03,336.5v-5M530.60,336.5v-5M533.80,336.5v-8" fill="none" stroke="#111" stroke-width="1.2"/>
<path d="M324.1,197.1V336.5H533.8" fill="none" stroke="#111" stroke-width="1.8" stroke-linejoin="miter" stroke-linecap="square"/>
<path d="M324.90,303.10L329.50,303.10L327.20,307.60Z" fill="none" stroke="#ff0000" stroke-width="1.25" stroke-linejoin="miter"/>
<circle cx="333.50" cy="294.70" r="2.40" fill="none" stroke="#ff0000" stroke-width="1.25"/>
<rect x="330.80" y="294.30" width="4.40" height="4.40" fill="none" stroke="#ff0000" stroke-width="1.35"/>
<path d="M347.00,290.60L351.60,290.60L349.30,295.10Z" fill="none" stroke="#ff0000" stroke-width="1.25" stroke-linejoin="miter"/>
<circle cx="355.30" cy="284.20" r="2.40" fill="none" stroke="#ff0000" stroke-width="1.25"/>
<rect x="352.20" y="288.10" width="4.40" height="4.40" fill="none" stroke="#ff0000" stroke-width="1.35"/>
<rect x="354.20" y="284.30" width="4.40" height="4.40" fill="none" stroke="#0000ff" stroke-width="1.35"/>
<path d="M359.80,288.70L364.40,288.70L362.10,293.20Z" fill="none" stroke="#0000ff" stroke-width="1.25" stroke-linejoin="miter"/>
<circle cx="351.10" cy="278.60" r="2.40" fill="none" stroke="#0000ff" stroke-width="1.25"/>
<circle cx="371.60" cy="272.90" r="2.40" fill="none" stroke="#0000ff" stroke-width="1.25"/>
<path d="M368.50,279.20L373.10,279.20L370.80,283.70Z" fill="none" stroke="#ff0000" stroke-width="1.25" stroke-linejoin="miter"/>
<rect x="372.80" y="275.50" width="4.40" height="4.40" fill="none" stroke="#ff0000" stroke-width="1.35"/>
<rect x="377.10" y="275.00" width="4.40" height="4.40" fill="none" stroke="#0000ff" stroke-width="1.35"/>
<circle cx="384.40" cy="276.00" r="2.40" fill="none" stroke="#ff0000" stroke-width="1.25"/>
<path d="M380.00,279.20L384.60,279.20L382.30,283.70Z" fill="none" stroke="#0000ff" stroke-width="1.25" stroke-linejoin="miter"/>
<path d="M396.20,244.10L400.80,244.10L398.50,248.60Z" fill="none" stroke="#ff0000" stroke-width="1.25" stroke-linejoin="miter"/>
<rect x="425.70" y="239.30" width="4.40" height="4.40" fill="none" stroke="#ff0000" stroke-width="1.35"/>
<rect x="427.20" y="243.80" width="4.40" height="4.40" fill="none" stroke="#ff0000" stroke-width="1.35"/>
<path d="M421.10,246.10L425.70,246.10L423.40,250.60Z" fill="none" stroke="#ff0000" stroke-width="1.25" stroke-linejoin="miter"/>
<path d="M428.00,250.70L432.60,250.70L430.30,255.20Z" fill="none" stroke="#ff0000" stroke-width="1.25" stroke-linejoin="miter"/>
<path d="M405.60,259.80L410.20,259.80L407.90,264.30Z" fill="none" stroke="#ff0000" stroke-width="1.25" stroke-linejoin="miter"/>
<rect x="409.60" y="257.10" width="4.40" height="4.40" fill="none" stroke="#ff0000" stroke-width="1.35"/>
<circle cx="418.20" cy="259.50" r="2.40" fill="none" stroke="#ff0000" stroke-width="1.25"/>
<rect x="419.00" y="257.10" width="4.40" height="4.40" fill="none" stroke="#0000ff" stroke-width="1.35"/>
<circle cx="423.60" cy="259.30" r="2.40" fill="none" stroke="#0000ff" stroke-width="1.25"/>
<path d="M425.00,258.00L429.60,258.00L427.30,262.50Z" fill="none" stroke="#0000ff" stroke-width="1.25" stroke-linejoin="miter"/>
<path d="M390.20,270.60L394.80,270.60L392.50,275.10Z" fill="none" stroke="#ff0000" stroke-width="1.25" stroke-linejoin="miter"/>
<rect x="393.40" y="264.90" width="4.40" height="4.40" fill="none" stroke="#ff0000" stroke-width="1.35"/>
<path d="M395.40,267.60L400.00,267.60L397.70,272.10Z" fill="none" stroke="#ff0000" stroke-width="1.25" stroke-linejoin="miter"/>
<circle cx="400.10" cy="265.30" r="2.40" fill="none" stroke="#0000ff" stroke-width="1.25"/>
<rect x="400.70" y="267.90" width="4.40" height="4.40" fill="none" stroke="#0000ff" stroke-width="1.35"/>
<path d="M405.60,267.60L410.20,267.60L407.90,272.10Z" fill="none" stroke="#0000ff" stroke-width="1.25" stroke-linejoin="miter"/>
<rect x="426.90" y="266.70" width="4.40" height="4.40" fill="none" stroke="#ff0000" stroke-width="1.35"/>
<path d="M406.20,287.20L410.80,287.20L408.50,291.70Z" fill="none" stroke="#ff0000" stroke-width="1.25" stroke-linejoin="miter"/>
<path d="M427.10,319.30L431.70,319.30L429.40,323.80Z" fill="none" stroke="#0000ff" stroke-width="1.25" stroke-linejoin="miter"/>
<rect x="435.00" y="234.30" width="4.40" height="4.40" fill="none" stroke="#ff0000" stroke-width="1.35"/>
<path d="M448.50,231.30L453.10,231.30L450.80,235.80Z" fill="none" stroke="#0000ff" stroke-width="1.25" stroke-linejoin="miter"/>
<circle cx="436.60" cy="251.80" r="2.40" fill="none" stroke="#ff0000" stroke-width="1.25"/>
<rect x="433.20" y="248.20" width="4.40" height="4.40" fill="none" stroke="#ff0000" stroke-width="1.35"/>
<circle cx="440.30" cy="248.60" r="2.40" fill="none" stroke="#0000ff" stroke-width="1.25"/>
<rect x="439.90" y="248.40" width="4.40" height="4.40" fill="none" stroke="#0000ff" stroke-width="1.35"/>
<path d="M445.60,247.30L450.20,247.30L447.90,251.80Z" fill="none" stroke="#0000ff" stroke-width="1.25" stroke-linejoin="miter"/>
<circle cx="447.90" cy="244.10" r="2.40" fill="none" stroke="#ff0000" stroke-width="1.25"/>
<rect x="450.70" y="239.70" width="4.40" height="4.40" fill="none" stroke="#ff0000" stroke-width="1.35"/>
<circle cx="455.10" cy="246.10" r="2.40" fill="none" stroke="#ff0000" stroke-width="1.25"/>
<circle cx="459.60" cy="240.10" r="2.40" fill="none" stroke="#ff0000" stroke-width="1.25"/>
<circle cx="463.20" cy="235.90" r="2.40" fill="none" stroke="#ff0000" stroke-width="1.25"/>
<path d="M460.30,237.00L464.90,237.00L462.60,241.50Z" fill="none" stroke="#0000ff" stroke-width="1.25" stroke-linejoin="miter"/>
<rect x="462.80" y="238.50" width="4.40" height="4.40" fill="none" stroke="#0000ff" stroke-width="1.35"/>
<circle cx="468.40" cy="240.50" r="2.40" fill="none" stroke="#0000ff" stroke-width="1.25"/>
<circle cx="471.70" cy="242.50" r="2.40" fill="none" stroke="#ff0000" stroke-width="1.25"/>
<path d="M469.40,235.80L474.00,235.80L471.70,240.30Z" fill="none" stroke="#ff0000" stroke-width="1.25" stroke-linejoin="miter"/>
<rect x="473.70" y="234.30" width="4.40" height="4.40" fill="none" stroke="#ff0000" stroke-width="1.35"/>
<rect x="465.80" y="228.60" width="4.40" height="4.40" fill="none" stroke="#0000ff" stroke-width="1.35"/>
<path d="M471.80,227.30L476.40,227.30L474.10,231.80Z" fill="none" stroke="#0000ff" stroke-width="1.25" stroke-linejoin="miter"/>
<circle cx="440.30" cy="260.00" r="2.40" fill="none" stroke="#ff0000" stroke-width="1.25"/>
<rect x="468.60" y="253.80" width="4.40" height="4.40" fill="none" stroke="#0000ff" stroke-width="1.35"/>
<circle cx="478.70" cy="257.10" r="2.40" fill="none" stroke="#0000ff" stroke-width="1.25"/>
<rect x="480.80" y="223.60" width="4.40" height="4.40" fill="none" stroke="#ff0000" stroke-width="1.35"/>
<rect x="485.20" y="220.50" width="4.40" height="4.40" fill="none" stroke="#ff0000" stroke-width="1.35"/>
<path d="M498.50,221.70L503.10,221.70L500.80,226.20Z" fill="none" stroke="#ff0000" stroke-width="1.25" stroke-linejoin="miter"/>
<path d="M492.00,229.60L496.60,229.60L494.30,234.10Z" fill="none" stroke="#ff0000" stroke-width="1.25" stroke-linejoin="miter"/>
<path d="M494.60,233.70L499.20,233.70L496.90,238.20Z" fill="none" stroke="#ff0000" stroke-width="1.25" stroke-linejoin="miter"/>
<circle cx="489.00" cy="226.20" r="2.40" fill="none" stroke="#0000ff" stroke-width="1.25"/>
<rect x="489.50" y="224.70" width="4.40" height="4.40" fill="none" stroke="#0000ff" stroke-width="1.35"/>
<path d="M493.90,222.40L498.50,222.40L496.20,226.90Z" fill="none" stroke="#0000ff" stroke-width="1.25" stroke-linejoin="miter"/>
<path d="M478.90,227.60L483.50,227.60L481.20,232.10Z" fill="none" stroke="#0000ff" stroke-width="1.25" stroke-linejoin="miter"/>
<rect x="479.00" y="229.30" width="4.40" height="4.40" fill="none" stroke="#0000ff" stroke-width="1.35"/>
<circle cx="494.60" cy="217.80" r="2.40" fill="none" stroke="#0000ff" stroke-width="1.25"/>
<path d="M495.20,218.50L499.80,218.50L497.50,223.00Z" fill="none" stroke="#0000ff" stroke-width="1.25" stroke-linejoin="miter"/>
<rect x="498.10" y="217.40" width="4.40" height="4.40" fill="none" stroke="#0000ff" stroke-width="1.35"/>
<circle cx="504.50" cy="217.60" r="2.40" fill="none" stroke="#0000ff" stroke-width="1.25"/>
<rect x="504.50" y="218.80" width="4.40" height="4.40" fill="none" stroke="#0000ff" stroke-width="1.35"/>
<path d="M509.00,212.50L513.60,212.50L511.30,217.00Z" fill="none" stroke="#0000ff" stroke-width="1.25" stroke-linejoin="miter"/>
<rect x="509.80" y="214.20" width="4.40" height="4.40" fill="none" stroke="#0000ff" stroke-width="1.35"/>
<circle cx="516.60" cy="214.40" r="2.40" fill="none" stroke="#0000ff" stroke-width="1.25"/>
<circle cx="516.60" cy="208.50" r="2.40" fill="none" stroke="#0000ff" stroke-width="1.25"/>
<rect x="518.30" y="207.00" width="4.40" height="4.40" fill="none" stroke="#0000ff" stroke-width="1.35"/>
<path d="M520.20,210.60L524.80,210.60L522.50,215.10Z" fill="none" stroke="#0000ff" stroke-width="1.25" stroke-linejoin="miter"/>
<rect x="522.30" y="205.70" width="4.40" height="4.40" fill="none" stroke="#0000ff" stroke-width="1.35"/>
<rect x="525.50" y="204.40" width="4.40" height="4.40" fill="none" stroke="#0000ff" stroke-width="1.35"/>
<circle cx="529.70" cy="203.30" r="2.40" fill="none" stroke="#0000ff" stroke-width="1.25"/>
<path d="M529.40,204.70L534.00,204.70L531.70,209.20Z" fill="none" stroke="#0000ff" stroke-width="1.25" stroke-linejoin="miter"/>
<rect x="532.10" y="205.70" width="4.40" height="4.40" fill="none" stroke="#0000ff" stroke-width="1.35"/>
<circle cx="533.00" cy="202.00" r="2.40" fill="none" stroke="#0000ff" stroke-width="1.25"/>
<path d="M534.00,202.70L538.60,202.70L536.30,207.20Z" fill="none" stroke="#0000ff" stroke-width="1.25" stroke-linejoin="miter"/>
<text x="317.3" y="344.5" text-anchor="end" font-size="14.6" fill="#1e1e1e">10<tspan font-size="10" dy="-10.1">−3</tspan></text>
<text x="317.3" y="309.6" text-anchor="end" font-size="14.6" fill="#1e1e1e">10<tspan font-size="10" dy="-10.1">−2</tspan></text>
<text x="317.3" y="274.8" text-anchor="end" font-size="14.6" fill="#1e1e1e">10<tspan font-size="10" dy="-10.1">−1</tspan></text>
<text x="317.3" y="239.9" text-anchor="end" font-size="14.6" fill="#1e1e1e">10<tspan font-size="10" dy="-10.1">0</tspan></text>
<text x="317.3" y="205.1" text-anchor="end" font-size="14.6" fill="#1e1e1e">10<tspan font-size="10" dy="-10.1">1</tspan></text>
<text x="324.1" y="357.8" text-anchor="middle" font-size="14.6" fill="#1e1e1e">10<tspan font-size="10" dy="-9.7" dx="-0.8">1</tspan></text>
<text x="394.0" y="357.8" text-anchor="middle" font-size="14.6" fill="#1e1e1e">10<tspan font-size="10" dy="-9.7" dx="-0.8">2</tspan></text>
<text x="463.9" y="357.8" text-anchor="middle" font-size="14.6" fill="#1e1e1e">10<tspan font-size="10" dy="-9.7" dx="-0.8">3</tspan></text>
<text x="533.8" y="357.8" text-anchor="middle" font-size="14.6" fill="#1e1e1e">10<tspan font-size="10" dy="-9.7" dx="-0.8">4</tspan></text>
<text x="337.3" y="212.4" font-size="11.9" fill="#1e1e1e">(d)</text>
<text x="356.7" y="213.0" font-size="14" fill="#1a1a1a">1/2'' PF</text>
<text transform="translate(10.2,78.4) rotate(-90)" text-anchor="middle" font-size="12.6" fill="#1e1e1e">Measurement error (Pa)</text>
<text transform="translate(10.2,266.4) rotate(-90)" text-anchor="middle" font-size="12.6" fill="#1e1e1e">Measurement error (Pa)</text>
<text x="156.1" y="378.2" text-anchor="middle" font-size="12.65" fill="#1e1e1e">Sound pressure product (Pa<tspan font-size="9.4" dy="-4.6">2</tspan><tspan dy="4.6" dx="0.6">)</tspan></text>
<text x="428.5" y="378.2" text-anchor="middle" font-size="12.65" fill="#1e1e1e">Sound pressure product (Pa<tspan font-size="9.4" dy="-4.6">2</tspan><tspan dy="4.6" dx="0.6">)</tspan></text>
<rect x="181.3" y="83.8" width="77.6" height="57" rx="2.5" fill="#fff" stroke="#cdcdcd" stroke-width="1.2"/>
<path d="M185.86,92.83L190.14,92.83L188.00,97.02Z" fill="none" stroke="#ff0000" stroke-width="1.25" stroke-linejoin="miter"/>
<path d="M203.66,92.83L207.94,92.83L205.80,97.02Z" fill="none" stroke="#0000ff" stroke-width="1.25" stroke-linejoin="miter"/>
<text x="217.2" y="99.5" font-size="14.1" fill="#1e1e1e">2 kHz</text>
<rect x="185.95" y="109.55" width="4.09" height="4.09" fill="none" stroke="#ff0000" stroke-width="1.35"/>
<rect x="203.75" y="109.55" width="4.09" height="4.09" fill="none" stroke="#0000ff" stroke-width="1.35"/>
<text x="217.2" y="116.5" font-size="14.1" fill="#1e1e1e">4 kHz</text>
<circle cx="188.00" cy="128.60" r="2.23" fill="none" stroke="#ff0000" stroke-width="1.25"/>
<circle cx="205.80" cy="128.60" r="2.23" fill="none" stroke="#0000ff" stroke-width="1.25"/>
<text x="217.2" y="133.5" font-size="14.1" fill="#1e1e1e">6 kHz</text>
</svg>
</body></html>
